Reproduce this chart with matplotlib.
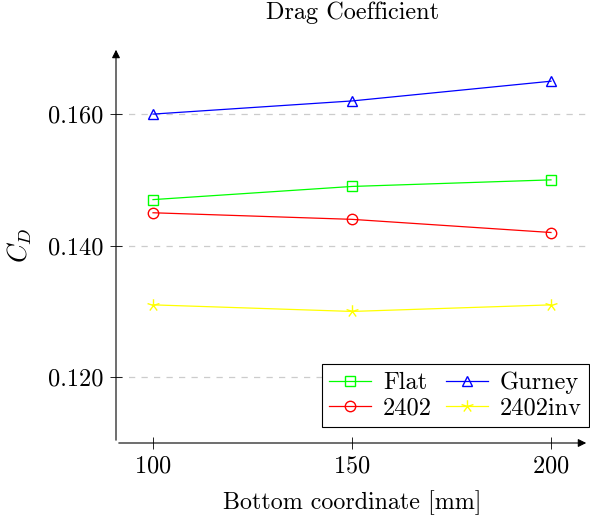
import numpy as np
import matplotlib.pyplot as plt
from matplotlib.path import Path
from matplotlib.ticker import FormatStrFormatter

plt.rcParams['font.family'] = 'cmr10'
plt.rcParams['mathtext.fontset'] = 'cm'
plt.rcParams['axes.formatter.use_mathtext'] = True

x = [100, 150, 200]
flat = [0.147, 0.149, 0.150]
gurney = [0.160, 0.162, 0.165]
naca2402 = [0.145, 0.144, 0.142]
naca2402inv = [0.131, 0.130, 0.131]

# five-spoke star like pgfplots 'star'
verts, codes = [], []
for a in np.radians(90 + 72 * np.arange(5)):
    verts += [(0, 0), (np.cos(a), np.sin(a))]
    codes += [Path.MOVETO, Path.LINETO]
star = Path(verts, codes)

fig = plt.figure(figsize=(5.9, 5.17), dpi=100)
ax = fig.add_axes([116 / 590, 1 - 443 / 517, (589 - 116) / 590, (443 - 47) / 517])

l1, = ax.plot(x, flat, color='#00ff00', marker='s', mfc='none', ms=7, lw=0.9, label='Flat')
l2, = ax.plot(x, gurney, color='#0000ff', marker='^', mfc='none', ms=7, lw=0.9, label='Gurney')
l3, = ax.plot(x, naca2402, color='#ff0000', marker='o', mfc='none', ms=7.5, lw=0.9, label='2402')
l4, = ax.plot(x, naca2402inv, color='#ffff00', marker=star, mfc='none', ms=9, mew=1.0, lw=0.9, label='2402inv')

ax.set_xlim(90.7, 209.55)
ax.set_ylim(0.11, 0.1702)
ax.set_xticks([100, 150, 200])
ax.set_yticks([0.12, 0.14, 0.16])
ax.yaxis.set_major_formatter(FormatStrFormatter('%.3f'))
ax.grid(axis='y', color='#cccccc', ls=(0, (5, 5)), lw=0.9)
ax.set_axisbelow(True)

for s in ax.spines.values():
    s.set_visible(False)
ax.annotate('', xy=(1, 0), xytext=(0, 0), xycoords='axes fraction',
            arrowprops=dict(arrowstyle='-|>', color='black', lw=0.8, mutation_scale=12))
ax.annotate('', xy=(0, 1), xytext=(0, 0), xycoords='axes fraction',
            arrowprops=dict(arrowstyle='-|>', color='black', lw=0.8, mutation_scale=12))

ax.tick_params(direction='inout', length=8.5, width=0.6, labelsize=17.5, pad=5)

ax.set_title('Drag Coefficient', fontsize=17.5, pad=20)
ax.set_xlabel('Bottom coordinate [mm]', fontsize=17.3, labelpad=9)
ax.set_ylabel('$C_D$', fontsize=19, labelpad=10)

# pgfplots fills the legend row by row
leg = ax.legend([l1, l3, l2, l4], ['Flat', '2402', 'Gurney', '2402inv'],
                ncol=2, loc='lower right', bbox_to_anchor=(1.0, 0.04), fontsize=17.5,
                frameon=True, fancybox=False, edgecolor='black', framealpha=1,
                handlelength=1.7, columnspacing=0.6, handletextpad=0.5,
                borderpad=0.3, labelspacing=0.15, borderaxespad=0)
leg.get_frame().set_linewidth(0.8)

fig.savefig('out.png', dpi=100)
